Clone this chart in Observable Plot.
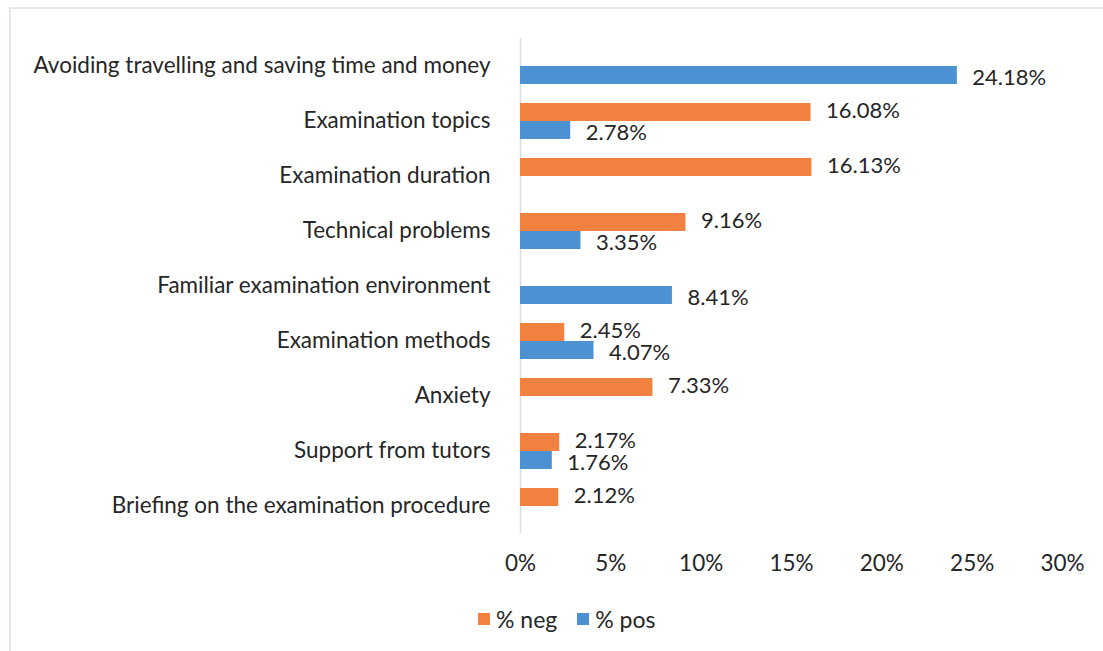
<!DOCTYPE html>
<html>
<head>
<meta charset="utf-8">
<script src="https://cdn.jsdelivr.net/npm/d3@7"></script>
<script src="https://cdn.jsdelivr.net/npm/@observablehq/plot@0.6"></script>
<style>
  html, body { margin: 0; padding: 0; background: #fff; }
  body { width: 1103px; height: 651px; position: relative; overflow: hidden; font-family: Lato, sans-serif; }
  #frame { position: absolute; left: 9px; top: 7px; width: 1100px; height: 650px; border-top: 2px solid #e2e8ed; border-left: 2px solid #e2e8ed; }
  #chart { position: absolute; left: 0; top: 0; }
  #legend { position: absolute; top: 605px; left: 478px; display: flex; align-items: center; font-size: 23px; color: #262626; }
  .item { display: flex; align-items: center; margin-right: 20px; }
  .sw { width: 12px; height: 12px; margin-right: 6px; }
</style>
</head>
<body>
<div id="frame"></div>
<div id="chart"></div>
<div id="legend"></div>
<script>
const categories = [
  "Avoiding travelling and saving time and money",
  "Examination topics",
  "Examination duration",
  "Technical problems",
  "Familiar examination environment",
  "Examination methods",
  "Anxiety",
  "Support from tutors",
  "Briefing on the examination procedure"
];
const seriesNames = ["% neg", "% pos"];
const negValues = [null, 16.08, 16.13, 9.16, null, 2.45, 7.33, 2.17, 2.12];
const posValues = [24.18, 2.78, null, 3.35, 8.41, 4.07, null, 1.76, null];
const xTicks = [0, 5, 10, 15, 20, 25, 30];
const colors = ["#F0813F", "#4C92D3"];

const rows = [];
categories.forEach((c, i) => {
  if (negValues[i] != null) rows.push({category: c, series: seriesNames[0], value: negValues[i]});
  if (posValues[i] != null) rows.push({category: c, series: seriesNames[1], value: posValues[i]});
});
const negRows = rows.filter(d => d.series === seriesNames[0]);
const posRows = rows.filter(d => d.series === seriesNames[1]);
const fmt = d => d.value.toFixed(2) + "%";

const chart = Plot.plot({
  width: 1103,
  height: 595,
  marginLeft: 520,
  marginRight: 41,
  marginTop: 35,
  marginBottom: 60,
  style: { fontFamily: "Lato, sans-serif", fontSize: "22.5px", color: "#262626", background: "transparent", overflow: "visible" },
  x: { domain: [0, 30], ticks: xTicks, tickFormat: d => d + "%", label: null, tickSize: 0, tickPadding: 22 },
  fy: { domain: categories, paddingInner: 0, paddingOuter: 0, label: null, axis: "left", tickSize: 0, tickPadding: 30 },
  y: { domain: seriesNames, paddingInner: 0, paddingOuter: 0.5, axis: null },
  color: { domain: seriesNames, range: colors },
  marks: [
    Plot.ruleX([0], { stroke: "#d6dfe7", strokeWidth: 1.5 }),
    Plot.barX(rows, { fy: "category", y: "series", x: "value", fill: "series" }),
    Plot.text(negRows, { fy: "category", y: "series", x: "value", text: fmt, dx: 15, dy: -2, textAnchor: "start", fill: "#262626", fontSize: 22 }),
    Plot.text(posRows, { fy: "category", y: "series", x: "value", text: fmt, dx: 15, dy: 2, textAnchor: "start", fill: "#262626", fontSize: 22 })
  ]
});
document.getElementById("chart").appendChild(chart);

const legend = document.getElementById("legend");
seriesNames.forEach((s, i) => {
  const item = document.createElement("div");
  item.className = "item";
  const sw = document.createElement("div");
  sw.className = "sw";
  sw.style.background = colors[i];
  const t = document.createElement("span");
  t.textContent = s;
  item.appendChild(sw);
  item.appendChild(t);
  legend.appendChild(item);
});
</script>
</body>
</html>
